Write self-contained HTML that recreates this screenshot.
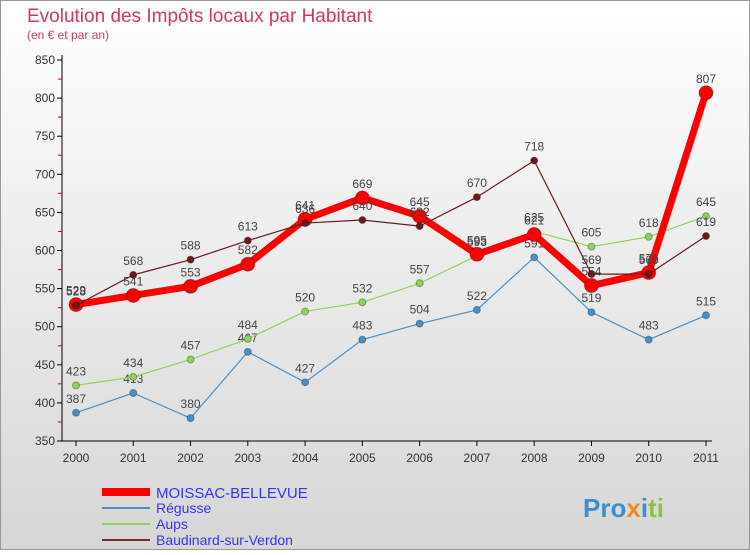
<!DOCTYPE html>
<html><head><meta charset="utf-8"><style>
body{margin:0;width:750px;height:550px;overflow:hidden;font-family:"Liberation Sans",sans-serif}
</style></head><body>
<svg id="c" width="750" height="550" xmlns="http://www.w3.org/2000/svg">
<defs><linearGradient id="bg" x1="0" y1="0" x2="0" y2="1"><stop offset="0" stop-color="#ffffff"/><stop offset="1" stop-color="#d6d6d6"/></linearGradient></defs>
<rect x="0.5" y="0.5" width="749" height="549" fill="url(#bg)" stroke="#999"/>
<text x="27" y="22" font-size="19" fill="#d6336c">Evolution des Impôts locaux par Habitant</text>
<text x="27" y="39" font-size="12" fill="#d6336c">(en € et par an)</text>
<g id="axes"></g><g id="series"></g>
<g>
<line x1="102" y1="492" x2="150" y2="492" stroke="#ff0000" stroke-width="8"/>
<text x="156" y="498" font-size="15" fill="#3333ff">MOISSAC-BELLEVUE</text>
<line x1="102" y1="508" x2="150" y2="508" stroke="#4a90c8" stroke-width="2"/>
<text x="156" y="513" font-size="14" fill="#3333ff">Régusse</text>
<line x1="102" y1="524" x2="150" y2="524" stroke="#8ed45a" stroke-width="2"/>
<text x="156" y="529" font-size="14" fill="#3333ff">Aups</text>
<line x1="102" y1="540" x2="150" y2="540" stroke="#7a2a2a" stroke-width="2"/>
<text x="156" y="545" font-size="14" fill="#3333ff">Baudinard-sur-Verdon</text>
</g>
<text x="583" y="517" font-size="26" font-weight="bold"><tspan fill="#3a8fd0">Pro</tspan><tspan fill="#f08a1c">x</tspan><tspan fill="#3a8fd0">i</tspan><tspan fill="#8ac43f">ti</tspan></text>
</svg>
<script>
const years=[2000,2001,2002,2003,2004,2005,2006,2007,2008,2009,2010,2011];
const moissac=[529,541,553,582,641,669,645,595,621,554,571,807];
const regusse=[387,413,380,467,427,483,504,522,591,519,483,515];
const aups=[423,434,457,484,520,532,557,593,625,605,618,645];
const baudinard=[528,568,588,613,636,640,632,670,718,569,569,619];
const yTicks=[350,400,450,500,550,600,650,700,750,800,850];
const NS="http://www.w3.org/2000/svg";
const x=i=>76+i*(630/11);
const y=v=>441-(v-350)*(381/500);
function mk(t,a,p){const e=document.createElementNS(NS,t);for(const k in a)e.setAttribute(k,a[k]);p.appendChild(e);return e;}
const ax=document.getElementById('axes');
const yl=mk('line',{x1:62,y1:55,x2:62,y2:441,stroke:'#000'},ax);

const xl=mk('line',{x1:62,y1:441,x2:712,y2:441,stroke:'#000'},ax);

yTicks.forEach((v,i)=>{mk('line',{x1:57,y1:y(v),x2:62,y2:y(v),stroke:'#000'},ax);
 if(i<yTicks.length-1)mk('line',{x1:58,y1:y(v+25),x2:62,y2:y(v+25),stroke:'#d00'},ax);
 const t=mk('text',{x:55,y:y(v)+4,'font-size':12,'text-anchor':'end',fill:'#333'},ax);t.textContent=v;
 });
years.forEach((yr,i)=>{mk('line',{x1:x(i),y1:441,x2:x(i),y2:446,stroke:'#000'},ax);
 const t=mk('text',{x:x(i),y:462,'font-size':12,'text-anchor':'middle',fill:'#333'},ax);t.textContent=yr;
 });
const sg=document.getElementById('series');
function draw(vals,col,w,r,name){const g=mk('g',{},sg);
 
 mk('polyline',{points:vals.map((v,i)=>x(i)+','+y(v)).join(' '),fill:'none',stroke:col,'stroke-width':w,'stroke-linejoin':'round'},g);
 vals.forEach((v,i)=>{const c=mk('circle',{cx:x(i),cy:y(v),r:r,fill:col,stroke:'rgba(0,0,0,0.3)'},g);
  
  const t=mk('text',{x:x(i),y:y(v)-10,'font-size':12,'text-anchor':'middle',fill:'#444'},g);t.textContent=v;
  });}
draw(regusse,'#4a90c8',1.2,3.5,'regusse');
draw(aups,'#8ed45a',1.2,3.5,'aups');
draw(moissac,'#ff0000',7,7,'moissac');
draw(baudinard,'#6b1a1a',1.2,3.5,'baudinard');
</script>
</body></html>
